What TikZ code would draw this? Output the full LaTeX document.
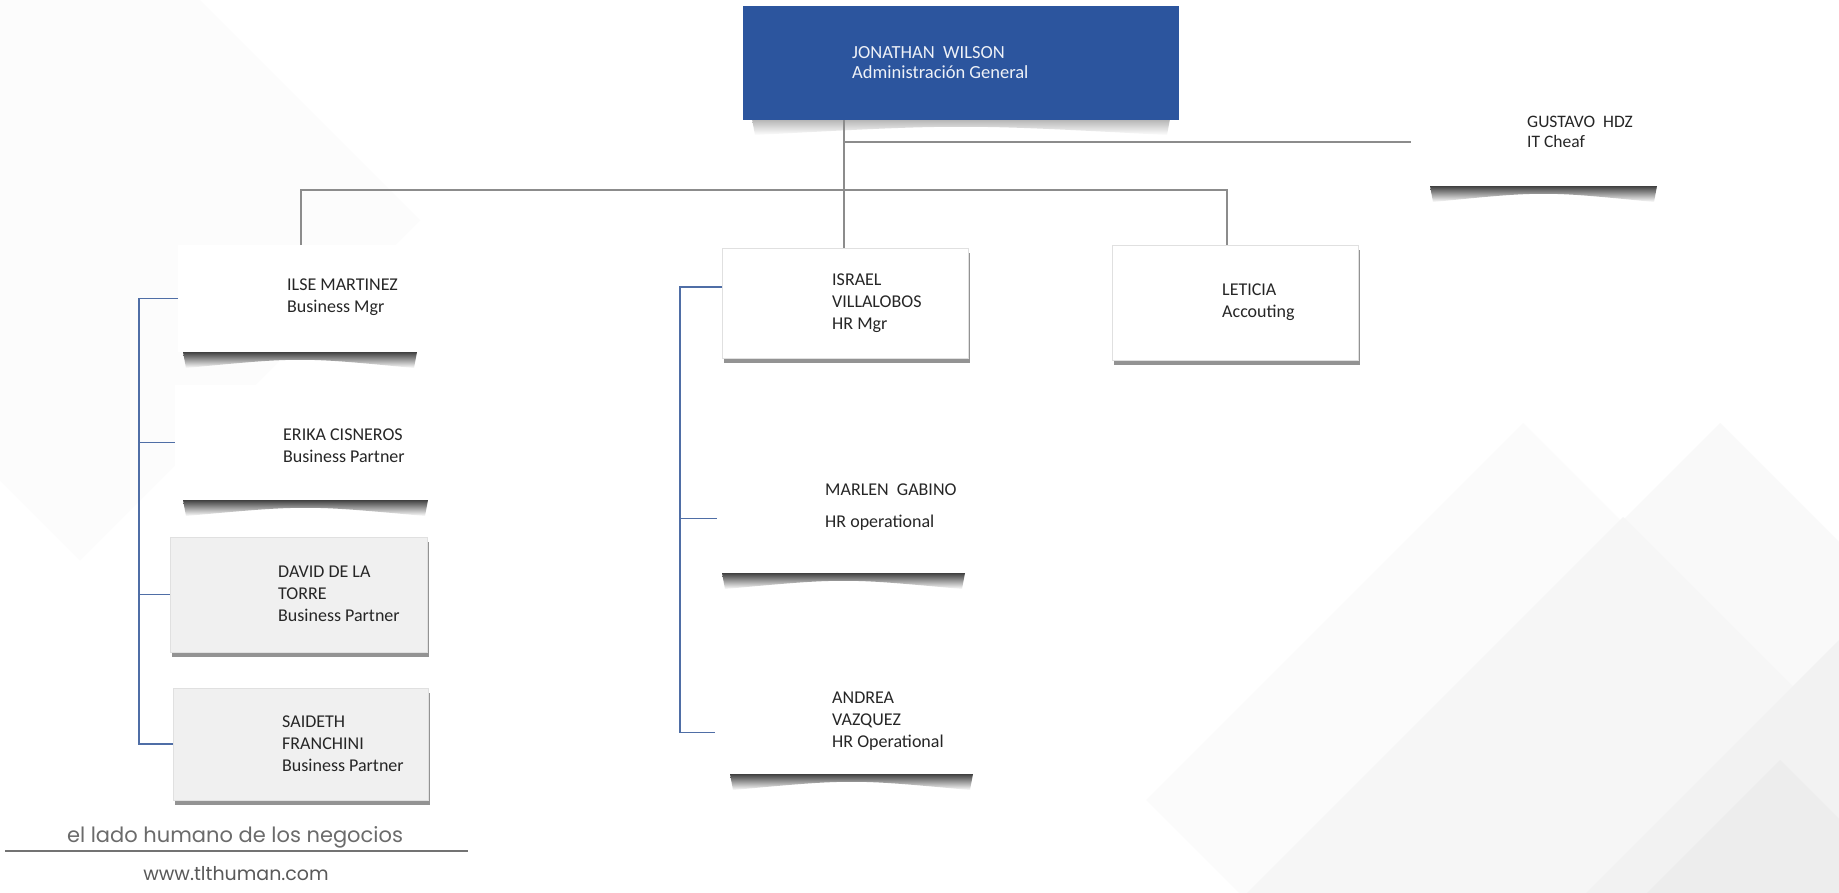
\documentclass[tikz,border=0pt]{standalone}
\usepackage{fontspec}
\setmainfont{Carlito}
\newfontfamily\footfont{Poppins}
\usetikzlibrary{shadows,calc}
\definecolor{topblue}{HTML}{2C559E}
\definecolor{conncol}{HTML}{8C8C8C}
\definecolor{brackcol}{HTML}{4F6EA6}
\definecolor{greybox}{HTML}{F0F0F0}
\definecolor{txtcol}{HTML}{262626}
\tikzset{
  box/.style={rectangle, anchor=north west, inner sep=0pt, outer sep=0pt},
  plainbox/.style={box, fill=white},
  framebox/.style={box, fill=white, draw=black!12, line width=0.6pt,
     drop shadow={shadow xshift=1.5pt, shadow yshift=-5pt, opacity=0.7, fill=black!60}},
  greyframebox/.style={framebox, fill=greybox},
  bluebox/.style={box, fill=topblue},
  ghostbox/.style={box},
  lbl/.style={anchor=north west, align=left, inner sep=0pt, text=txtcol,
     font=\fontsize{18}{22}\selectfont},
  lblw/.style={lbl, text=white!92!topblue, font=\fontsize{18.5}{20}\selectfont},
  conn/.style={draw=conncol, line width=1.2pt},
  bracket/.style={draw=brackcol, line width=1.2pt},
  cshadow/.style={top color=black!75, bottom color=white, draw=none},
  softshadow/.style={top color=black!30, bottom color=white, draw=none},
  foot/.style={inner sep=0pt, text=black!58, font=\footfont\fontsize{21}{24}\selectfont},
  footrule/.style={draw=black!55, line width=2.6pt}
}
\newcommand\curvshadow[4][cshadow]{%
  \shade[#1] (#2,#4) -- (#3,#4)
     -- (#3-3,#4+16) .. controls ({(#2+#3)/2},{#4+5}) .. (#2+3,#4+16) -- cycle;}
\begin{document}
\begin{tikzpicture}[x=1pt,y=-1pt]
\useasboundingbox (0,0) rectangle (1839,892);
% background
\begin{scope}
\clip (0,0) rectangle (1839,892);
\fill[white] (0,0) rectangle (1839,892);
\fill[black!1.2] (80,-120) -- (420,220) -- (80,560) -- (-260,220) -- cycle;
\fill[black!1.5] (1523,423) -- (1900,800) -- (1523,1177) -- (1146,800) -- cycle;
\fill[black!2.5] (1720,423) -- (2100,803) -- (1720,1183) -- (1340,803) -- cycle;
\fill[black!3.5] (1623,517) -- (2000,894) -- (1623,1271) -- (1246,894) -- cycle;
\fill[black!5] (1839,640) -- (2100,901) -- (1839,1162) -- (1578,901) -- cycle;
\fill[black!7] (1780,760) -- (2100,1080) -- (1780,1400) -- (1460,1080) -- cycle;
\end{scope}

% boxes
\curvshadow[softshadow]{752}{1170}{119}
\node[bluebox, minimum width=436pt, minimum height=114pt] (tb) at (743,6) {};
\node[ghostbox, minimum width=249pt, minimum height=88pt] (gus) at (1411,100) {};
\node[plainbox, minimum width=239pt, minimum height=107pt] (ilse) at (178,245) {};
\node[plainbox, minimum width=253pt, minimum height=115pt] (erika) at (175,385) {};
\node[greyframebox, minimum width=257pt, minimum height=115pt] (david) at (170,537) {};
\node[greyframebox, minimum width=255pt, minimum height=112pt] (saideth) at (173,688) {};
\node[framebox, minimum width=246pt, minimum height=110pt] (israel) at (722,248) {};
\node[plainbox, minimum width=248pt, minimum height=107pt] (marlen) at (717,465) {};
\node[plainbox, minimum width=258pt, minimum height=105pt] (andrea) at (715,668) {};
\node[framebox, minimum width=246pt, minimum height=115pt] (leticia) at (1112,245) {};

% curved shadows
\curvshadow{1430}{1657}{186}
\curvshadow{183}{417}{352}
\curvshadow{183}{428}{500}
\curvshadow{722}{965}{573}
\curvshadow{730}{973}{774}

% texts
\node[lblw] (tb-t) at (852,46) {JONATHAN\ \ WILSON\\Administración General};
\node[lbl, font=\fontsize{17.5}{20}\selectfont] (gus-t) at (1527,116) {GUSTAVO\ \ HDZ\\IT Cheaf};
\node[lbl] (ilse-t) at (287,279) {ILSE MARTINEZ\\Business Mgr};
\node[lbl] (erika-t) at (283,429) {ERIKA CISNEROS\\Business Partner};
\node[lbl] (david-t) at (278,566) {DAVID DE LA\\TORRE\\Business Partner};
\node[lbl] (saideth-t) at (282,716) {SAIDETH\\FRANCHINI\\Business Partner};
\node[lbl] (israel-t) at (832,274) {ISRAEL\\VILLALOBOS\\HR Mgr};
\node[lbl] (marlen-t) at (825,484) {MARLEN\ \ GABINO\\[10pt]HR operational};
\node[lbl] (andrea-t) at (832,692) {ANDREA\\VAZQUEZ\\HR Operational};
\node[lbl] (leticia-t) at (1222,284) {LETICIA\\Accouting};

% connectors
\coordinate (hub) at (844,190);
\coordinate (gusj) at (844,142);
\coordinate (hl) at (301,190);
\coordinate (hr) at (1227,190);
\draw[conn] (tb.south -| hub) -- (hub);
\draw[conn] (gusj) -- (gusj -| gus.west);
\draw[conn] (ilse.north -| hl) -- (hl) -- (hr) -- (leticia.north -| hr);
\draw[conn] (hub) -- (israel.north -| hub);

\coordinate (lbx) at (139,0);
\draw[bracket] (ilse.west) -- (ilse.west -| lbx) -- (saideth.west -| lbx) -- (saideth.west);
\draw[bracket] (erika.west -| lbx) -- (erika.west);
\draw[bracket] (david.west -| lbx) -- (david.west);

\coordinate (rbx) at (680,0);
\coordinate (isj) at ([yshift=16pt]israel.west);
\coordinate (anj) at ([yshift=-12pt]andrea.west);
\draw[bracket] (isj) -- (isj -| rbx) -- (anj -| rbx) -- (anj);
\draw[bracket] (marlen.west -| rbx) -- (marlen.west);

% footer
\node[foot] (slogan) at (235,837) {el lado humano de los negocios};
\draw[footrule] (5,851) -- (468,851);
\node[foot, text=black!65, font=\footfont\fontsize{19}{22}\selectfont] (web) at (236,874) {www.tlthuman.com};
\end{tikzpicture}
\end{document}
